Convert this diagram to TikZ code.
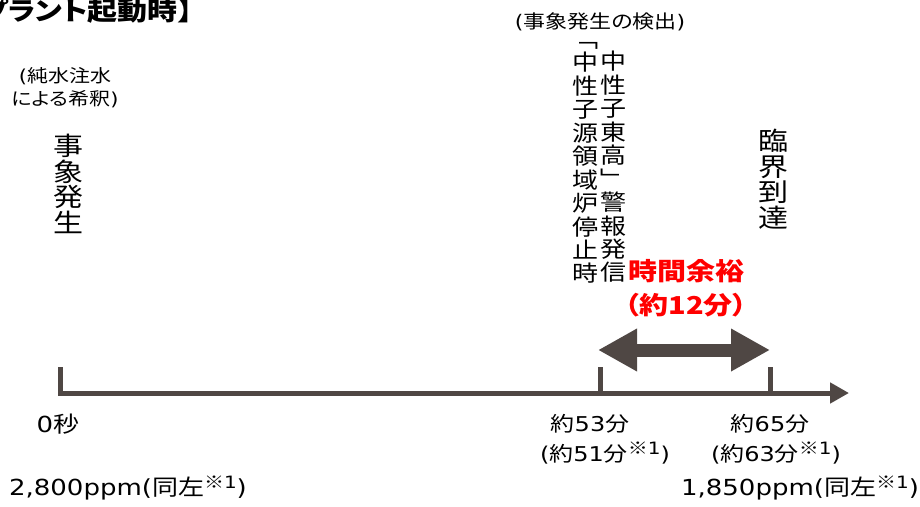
\documentclass[tikz,border=0pt]{standalone}
\usepackage{fontspec}
\setmainfont{DejaVu Sans}
\newfontfamily\jp{Noto Sans CJK JP}[RawFeature=+palt]
\usepackage{tikz}
\usetikzlibrary{arrows.meta,positioning}

\definecolor{axisbrown}{RGB}{79,71,68}
\definecolor{alertred}{RGB}{255,0,0}
\newcommand\ja[1]{{\jp #1}}
\newcommand\refm{\raisebox{9pt}{\fontsize{20}{20}\selectfont\ja{※}1}}

\begin{document}
\begin{tikzpicture}[x=1pt, y=1pt,
  axis/.style={draw=axisbrown, line width=5pt},
  txt/.style={inner sep=0pt, yscale=.85, transform shape, font=\fontsize{24}{28}\selectfont},
  tate/.style={txt, align=center},
  heading/.style={txt, font=\jp\bfseries\fontsize{30}{30}\selectfont},
  slack/.style={txt, align=center, text=alertred, font=\jp\bfseries\fontsize{29}{40}\selectfont},
  ppm/.style={txt, font=\fontsize{26}{30}\selectfont}]
\useasboundingbox (0,0) rectangle (920,-506);
\clip (0,0) rectangle (920,-506);

\node[heading, anchor=base east] (heading) at (193,-20) {プラント起動時】};

% time axis
\coordinate (t0top) at (60,-367);
\coordinate (t1top) at (600,-367);
\coordinate (t1) at (600,-393);
\coordinate (t2top) at (770,-367);
\coordinate (t2) at (770,-393);
\coordinate (axend) at (849,-393);
\draw[axis, -{Triangle[length=19pt,width=20pt]}] (t0top) |- (axend);
\draw[axis] (t1top) -- (t1);
\draw[axis] (t2top) -- (t2);

\coordinate (mL) at (598,-350);
\coordinate (mR) at (770,-350);
\draw[axisbrown, line width=13pt, {Triangle[length=39pt,width=40pt]}-{Triangle[length=39pt,width=40pt]}] (mL) -- (mR);

% labels above the axis
\node[tate, font=\fontsize{21}{27}\selectfont] (dilute) at (65,-88) {(\ja{純水注水}\\\ja{による希釈})};
\node[tate, font=\jp\fontsize{30}{30}\selectfont] (event) at (68,-184) {事\\象\\発\\生};
\node[txt, font=\fontsize{22}{26}\selectfont] (detect) at (600,-22) {(\ja{事象発生の検出})};
\node[tate, font=\jp\fontsize{26}{27.6}\selectfont] (srcstop) at (585,-163) {﹁\\中\\性\\子\\源\\領\\域\\炉\\停\\止\\時};
\node[tate, font=\jp\fontsize{26}{27.6}\selectfont] (alarm) at (613,-167) {中\\性\\子\\東\\高\\﹂\\警\\報\\発\\信};
\node[tate, font=\jp\fontsize{30}{30}\selectfont] (critical) at (773,-179) {臨\\界\\到\\達};
\node[slack] (slack) at (686,-288) {時間余裕\\（約12分）};

% labels below the axis
\node[txt, font=\fontsize{26}{30}\selectfont] (zero) at (58,-424) {0\ja{秒}};
\node[txt] (t53) at (590,-424) {\ja{約}53\ja{分}};
\node[txt] (t51) at (605,-453) {(\ja{約}51\ja{分}\refm)};
\node[txt] (t65) at (770,-424) {\ja{約}65\ja{分}};
\node[txt] (t63) at (776,-453) {(\ja{約}63\ja{分}\refm)};
\node[ppm] (ppm0) at (128,-488) {2,800ppm(\ja{同左}\refm)};
\node[ppm] (ppm1) at (800,-488) {1,850ppm(\ja{同左}\refm)};
\end{tikzpicture}
\end{document}
